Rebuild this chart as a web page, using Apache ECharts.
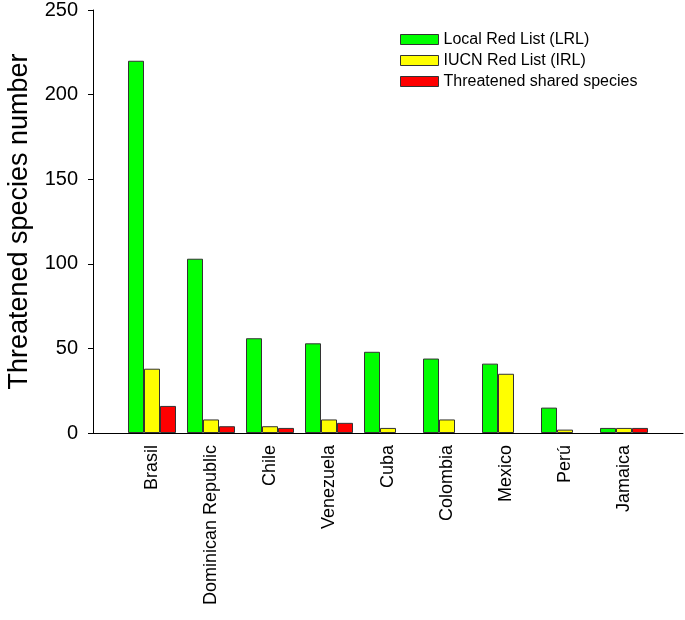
<!DOCTYPE html>
<html>
<head>
<meta charset="utf-8">
<script src="https://cdn.jsdelivr.net/npm/echarts@6/dist/echarts.min.js"></script>
<style>
  html, body { margin: 0; padding: 0; background: #fff; }
  #chart { width: 685px; height: 620px; }
</style>
</head>
<body>
<div id="chart"></div>
<script>
// countries (blank slots at both ends give the half-band padding of the original)
const countries = ['', 'Brasil', 'Dominican Republic', 'Chile', 'Venezuela', 'Cuba', 'Colombia', 'Mexico', 'Perú', 'Jamaica', '']
const localRedList = [null, 220, 103, 56, 53, 48, 44, 41, 15, 3, null]
const iucnRedList = [null, 38, 8, 4, 8, 3, 8, 35, 2, 3, null]
const sharedSpecies = [null, 16, 4, 3, 6, 0, 0, 0, 0, 3, null]
const yTicks = [0, 50, 100, 150, 200, 250]

const font = 'Liberation Sans, Arial, sans-serif'
const chart = echarts.init(document.getElementById('chart'))

function barSeries(name, data, color) {
  return {
    name: name,
    type: 'bar',
    // zero counts draw no bar at all (no flat outline)
    data: data.map(v => (v === 0 ? null : v)),
    barWidth: 16,
    barGap: '0%',
    itemStyle: { color: color, borderColor: '#333', borderWidth: 1 },
  }
}

chart.setOption({
  animation: false,
  grid: { left: 93, right: 2, top: 10, bottom: 187, outerBoundsMode: 'none' },
  legend: {
    orient: 'vertical',
    left: 395,
    top: 26,
    itemWidth: 38,
    itemHeight: 10,
    itemGap: 4,
    icon: 'rect',
    textStyle: { fontFamily: font, fontSize: 16, color: '#000', lineHeight: 17 },
    itemStyle: { borderColor: '#333', borderWidth: 1 },
  },
  xAxis: {
    type: 'category',
    data: countries,
    boundaryGap: false,
    axisLine: { lineStyle: { color: '#000', width: 1 } },
    axisTick: { show: false },
    axisLabel: {
      rotate: 90,
      interval: 0,
      margin: 12,
      fontFamily: font,
      fontSize: 18,
      color: '#000',
    },
  },
  yAxis: {
    type: 'value',
    min: yTicks[0],
    max: yTicks[yTicks.length - 1],
    interval: 50,
    name: 'Threatened species number',
    nameLocation: 'middle',
    nameGap: 60,
    nameTextStyle: { fontFamily: font, fontSize: 27, color: '#000' },
    axisLine: { show: true, lineStyle: { color: '#000', width: 1 } },
    axisTick: { show: true, length: 5, lineStyle: { color: '#000' } },
    axisLabel: { fontFamily: font, fontSize: 20, color: '#000', margin: 15 },
    splitLine: { show: false },
  },
  series: [
    barSeries('Local Red List (LRL)', localRedList, '#00ff00'),
    barSeries('IUCN Red List (IRL)', iucnRedList, '#ffff00'),
    barSeries('Threatened shared species', sharedSpecies, '#ff0000'),
  ],
})
</script>
</body>
</html>
